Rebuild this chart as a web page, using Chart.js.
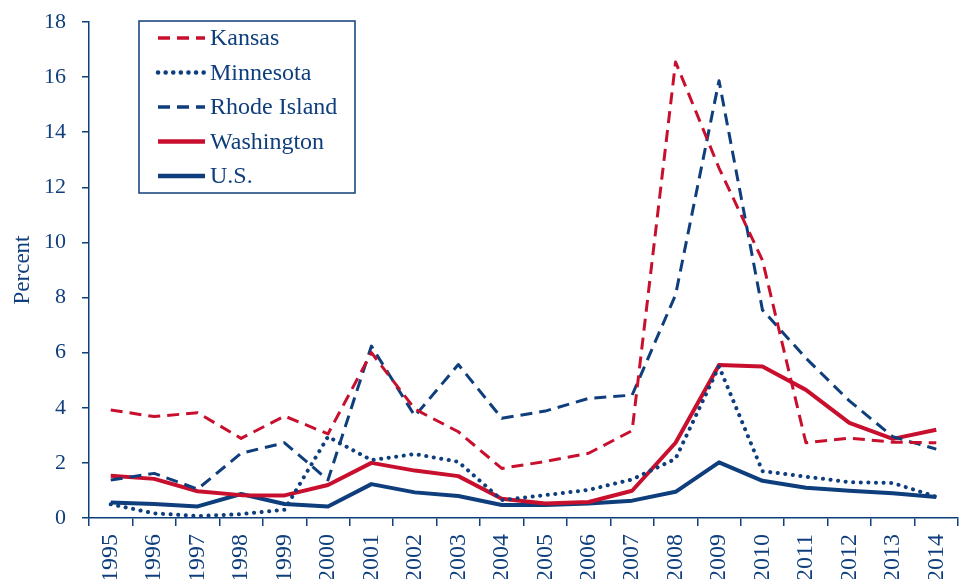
<!DOCTYPE html>
<html>
<head>
<meta charset="utf-8">
<script src="https://cdn.jsdelivr.net/npm/chart.js@4/dist/chart.umd.min.js"></script>
<style>
  html, body { margin: 0; padding: 0; background: #fff; }
  #wrap { width: 964px; height: 579px; }
</style>
</head>
<body>
<div id="wrap"><canvas id="chart" width="964" height="579"></canvas></div>
<script>
var years = ['1995','1996','1997','1998','1999','2000','2001','2002','2003','2004',
             '2005','2006','2007','2008','2009','2010','2011','2012','2013','2014'];

var kansas     = [3.92, 3.68, 3.82, 2.89, 3.7, 3.05, 6.0, 3.95, 3.13, 1.8, 2.05, 2.35, 3.17, 16.55, 12.7, 9.35, 2.73, 2.9, 2.75, 2.73];
var minnesota  = [0.5, 0.17, 0.07, 0.14, 0.3, 2.95, 2.1, 2.32, 2.04, 0.65, 0.83, 1.02, 1.4, 2.15, 5.5, 1.7, 1.5, 1.3, 1.27, 0.77];
var rhode      = [1.38, 1.62, 1.05, 2.35, 2.73, 1.38, 6.24, 3.7, 5.57, 3.62, 3.88, 4.34, 4.46, 8.1, 15.87, 7.55, 5.8, 4.25, 2.95, 2.5];
var washington = [1.53, 1.42, 0.97, 0.83, 0.82, 1.2, 2.0, 1.72, 1.52, 0.7, 0.53, 0.58, 0.99, 2.73, 5.55, 5.5, 4.65, 3.45, 2.87, 3.2];
var us         = [0.56, 0.51, 0.42, 0.87, 0.51, 0.42, 1.23, 0.93, 0.8, 0.47, 0.47, 0.53, 0.63, 0.95, 2.02, 1.35, 1.1, 0.99, 0.9, 0.76];

var RED = '#c8102e';
var NAVY = '#0f3e7c';
var FONT = "'Liberation Serif', 'Times New Roman', serif";

function series(label, data, color, dash, width, cap) {
    return {
        label: label,
        data: data,
        borderColor: color,
        backgroundColor: color,
        borderWidth: width,
        borderDash: dash,
        borderCapStyle: cap || 'butt',
        borderJoinStyle: 'round',
        pointRadius: 0,
        tension: 0,
        fill: false
    };
}

// legend box drawn inside the plot, upper left
var boxLegend = {
    id: 'boxLegend',
    afterDraw: function(chart) {
        var ctx = chart.ctx;
        var x0 = 139, y0 = 21, w = 216, h = 172;
        ctx.save();
        ctx.fillStyle = '#fff';
        ctx.fillRect(x0, y0, w, h);
        ctx.strokeStyle = NAVY;
        ctx.lineWidth = 1.5;
        ctx.strokeRect(x0, y0, w, h);
        ctx.font = '24px ' + FONT;
        ctx.textBaseline = 'middle';
        chart.data.datasets.forEach(function(ds, i) {
            var y = 38 + i * 34.5;
            ctx.beginPath();
            ctx.strokeStyle = ds.borderColor;
            ctx.lineWidth = ds.borderWidth + 0.5;
            ctx.lineCap = ds.borderCapStyle;
            ctx.setLineDash(ds.borderDash);
            ctx.moveTo(158, y);
            ctx.lineTo(205, y);
            ctx.stroke();
            ctx.setLineDash([]);
            ctx.fillStyle = NAVY;
            ctx.fillText(ds.label, 210, y + 1);
        });
        ctx.restore();
    }
};

var ctx = document.getElementById('chart').getContext('2d');
new Chart(ctx, {
    type: 'line',
    data: {
        labels: years,
        datasets: [
            series('Kansas', kansas, RED, [12, 7], 3),
            series('Minnesota', minnesota, NAVY, [0.1, 7.5], 4, 'round'),
            series('Rhode Island', rhode, NAVY, [12, 7], 3),
            series('Washington', washington, RED, [], 4),
            series('U.S.', us, NAVY, [], 4)
        ]
    },
    options: {
        responsive: false,
        animation: false,
        layout: { padding: { top: 22, right: 6, left: 0, bottom: 0 } },
        plugins: {
            legend: { display: false },
            tooltip: { enabled: false }
        },
        scales: {
            x: {
                offset: true,
                grid: {
                    offset: true,
                    drawOnChartArea: false,
                    tickLength: 8,
                    tickColor: NAVY,
                    lineWidth: 1.5
                },
                border: { color: NAVY, width: 1.5 },
                ticks: {
                    color: NAVY,
                    font: { family: FONT, size: 24 },
                    minRotation: 90,
                    maxRotation: 90,
                    padding: 8,
                    autoSkip: false
                },
                afterFit: function(scale) {
                    scale.height = 61;
                    scale.paddingLeft = 0;
                    scale.paddingRight = 0;
                }
            },
            y: {
                min: 0,
                max: 18,
                ticks: {
                    stepSize: 2,
                    color: NAVY,
                    font: { family: FONT, size: 22 },
                    padding: 16
                },
                grid: {
                    drawOnChartArea: false,
                    tickLength: 7,
                    tickColor: NAVY,
                    lineWidth: 1.5
                },
                border: { color: NAVY, width: 1.5 },
                title: {
                    display: true,
                    text: 'Percent',
                    color: NAVY,
                    font: { family: FONT, size: 23 },
                    padding: { top: 9, bottom: 0 }
                },
                afterFit: function(scale) {
                    scale.width = 89;
                    scale.paddingTop = 0;
                    scale.paddingBottom = 0;
                }
            }
        }
    },
    plugins: [boxLegend]
});
</script>
</body>
</html>
